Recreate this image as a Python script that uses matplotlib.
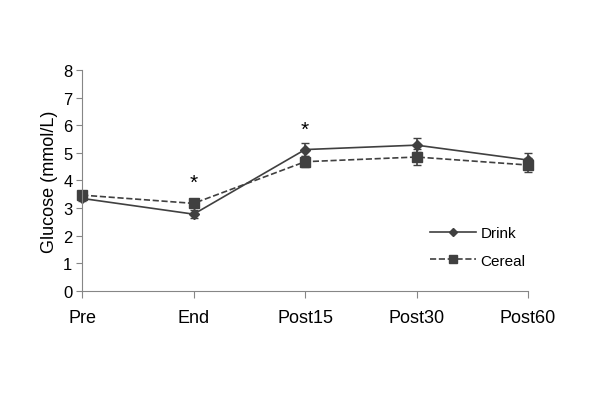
import matplotlib.pyplot as plt
from matplotlib.lines import Line2D

plt.rcParams['font.family'] = ['Liberation Sans', 'DejaVu Sans']

# data
timepoints = ['Pre', 'End', 'Post15', 'Post30', 'Post60']
drink = [3.35, 2.78, 5.12, 5.28, 4.74]
drink_err = [0.1, 0.15, 0.22, 0.25, 0.27]
cereal = [3.47, 3.17, 4.68, 4.85, 4.56]
cereal_err = [0.08, 0.1, 0.2, 0.3, 0.25]
star_pos = [1, 2]
star_y = [3.95, 5.85]

fig = plt.figure(figsize=(6, 4.06), dpi=100)
ax = fig.add_axes([0.137, 0.281, 0.743, 0.544])

x = list(range(len(timepoints)))
col = '#404040'
for ys, err, ls, mk, ms in [(drink, drink_err, '-', 'D', 5), (cereal, cereal_err, '--', 's', 7)]:
    lines = ax.errorbar(x, ys, yerr=err, color=col, lw=1.2, ls=ls, marker=mk, ms=ms,
                        capsize=3, elinewidth=1.2)
    for artist in lines.get_children():
        artist.set_clip_on(False)
for xs, ys in zip(star_pos, star_y):
    ax.text(xs, ys, '*', ha='center', va='center', fontsize=15, color='black')

ax.set_xlim(0, 4)
ax.set_ylim(0, 8)
ax.set_xticks(x)
ax.set_xticklabels(timepoints, fontsize=13)
ax.set_yticks(range(9))
ax.tick_params(axis='y', labelsize=12, length=4, color='#868686', pad=3)
ax.tick_params(axis='x', length=5, color='#868686', pad=8)
ax.set_ylabel('Glucose (mmol/L)', fontsize=13)
for s in ['top', 'right']:
    ax.spines[s].set_visible(False)
for s in ['left', 'bottom']:
    ax.spines[s].set_color('#868686')

handles = [Line2D([], [], color=col, lw=1.2, marker='D', ms=4),
           Line2D([], [], color=col, lw=1.2, ls='--', marker='s', ms=6)]
ax.legend(handles, ['Drink', 'Cereal'], loc='center left', bbox_to_anchor=(0.75, 0.2),
          frameon=False, fontsize=11, handlelength=3.0, handletextpad=0.3,
          labelspacing=0.9)

fig.savefig('out.png')
